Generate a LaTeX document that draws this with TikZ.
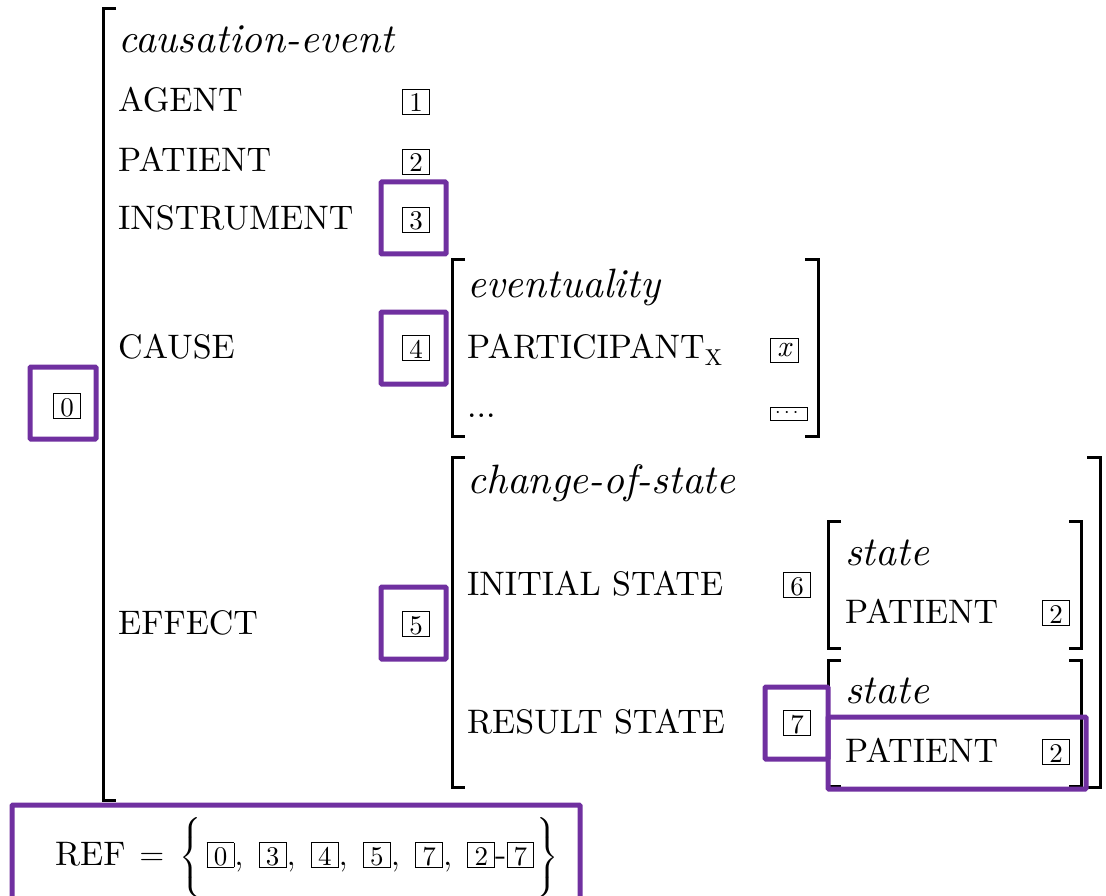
\RequirePackage{fix-cm}
\documentclass[tikz,border=0pt]{standalone}
\usepackage{amsmath}
\usepackage{fontspec}
\setmainfont{lmroman10}[Extension=.otf, UprightFont=*-regular, ItalicFont=*-italic, BoldFont=*-bold, BoldItalicFont=*-bolditalic]
\definecolor{pur}{HTML}{7030A0}
\newcommand{\tbox}[1]{{\setlength{\fboxsep}{0pt}\setlength{\fboxrule}{0.9pt}\fbox{\fontsize{27}{28}\selectfont\rule[-2pt]{0pt}{24pt}\makebox[26pt]{#1}}}}
\begin{document}
\begin{tikzpicture}[x=1pt,y=-1pt,
  font=\fontsize{34}{40}\selectfont,
  lbl/.style={anchor=base west, inner sep=0pt},
  typ/.style={anchor=base west, inner sep=0pt, font=\fontsize{41}{48}\selectfont\itshape},
  tg/.style={anchor=base west, inner sep=0pt},
  brk/.style={line width=3pt},
  hl/.style={draw=pur, line width=5pt, rounded corners=1pt}]
\useasboundingbox (0,0) rectangle (1106,896);

% brackets
\draw[brk] (116,9) -- (103,9) -- (103,800) -- (116,800);
\draw[brk] (465,260) -- (452,260) -- (452,436) -- (465,436);
\draw[brk] (805,260) -- (818,260) -- (818,436) -- (805,436);
\draw[brk] (465,457) -- (452,457) -- (452,787) -- (465,787);
\draw[brk] (1087,457) -- (1100,457) -- (1100,787) -- (1087,787);
\draw[brk] (841,521) -- (828,521) -- (828,648) -- (841,648);
\draw[brk] (1069,521) -- (1081,521) -- (1081,648) -- (1069,648);
\draw[brk] (841,660) -- (828,660) -- (828,786) -- (841,786);
\draw[brk] (1069,660) -- (1081,660) -- (1081,786) -- (1069,786);

% top level
\node[typ] (ce) at (118,53) {causation-event};
\node[lbl] (agent) at (118,112) {AGENT};
\node[tg] (t1) at (402,112) {\tbox{1}};
\node[lbl] (patient) at (118,172) {PATIENT};
\node[tg] (t2) at (402,172) {\tbox{2}};
\node[lbl] (instr) at (118,230) {INSTRUMENT};
\node[tg] (t3) at (402,230) {\tbox{3}};
\node[lbl] (cause) at (118,358) {CAUSE};
\node[tg] (t4) at (402,358) {\tbox{4}};
\node[tg] (t0) at (53,416) {\tbox{0}};
\node[lbl] (effect) at (118,634) {EFFECT};
\node[tg] (t5) at (402,634) {\tbox{5}};

% eventuality
\node[typ] (ev) at (467,298) {eventuality};
\node[lbl] (part) at (467,358) {PARTICIPANT\raisebox{-7pt}{\fontsize{23}{23}\selectfont X}};
\node[draw, line width=0.9pt, minimum width=28, minimum height=24, inner sep=0pt,
      font=\fontsize{30}{30}\selectfont\itshape] (tx) at (784,350) {x};
\node[lbl] (dots) at (467,417) {...};
\node[draw, line width=0.9pt, minimum width=37, minimum height=13, inner sep=0pt] (tdots) at (788.5,413.5) {\fontsize{20}{20}\selectfont$\cdots$};

% change of state
\node[typ] (cos) at (467,493) {change-of-state};
\node[lbl] (init) at (467,595) {INITIAL STATE};
\node[tg] (t6) at (783,595) {\tbox{6}};
\node[typ] (st1) at (845,565) {state};
\node[lbl] (pat1) at (845,623) {PATIENT};
\node[tg] (t2a) at (1042,623) {\tbox{2}};
\node[lbl] (res) at (467,733) {RESULT STATE};
\node[tg] (t7) at (783,733) {\tbox{7}};
\node[typ] (st2) at (845,703) {state};
\node[lbl] (pat2) at (845,762) {PATIENT};
\node[tg] (t2b) at (1042,762) {\tbox{2}};

% REF
\node[lbl] (ref) at (55,865) {REF\kern14pt$=\kern6pt\scalebox{1}[0.9]{$\biggl\{$}\kern5pt\tbox{0},\;\tbox{3},\;\tbox{4},\;\tbox{5},\;\tbox{7},\;\tbox{2}\text{-}\tbox{7}\kern2pt\scalebox{1}[0.9]{$\biggr\}$}$};

% highlights
\draw[hl] (30,367) rectangle (96,439);
\draw[hl] (381,182) rectangle (446,254);
\draw[hl] (381,312) rectangle (446,384);
\draw[hl] (381,587) rectangle (446,659);
\draw[hl] (765,687) rectangle (828,759);
\draw[hl] (828,717) rectangle (1086,789);
\draw[hl] (12,805) rectangle (580,910);
\end{tikzpicture}
\end{document}
